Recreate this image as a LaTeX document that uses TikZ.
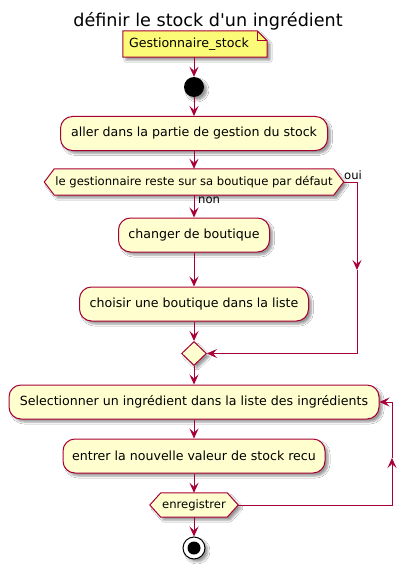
\documentclass[tikz,border=0pt]{standalone}
\usepackage{fontspec}
\setmainfont{DejaVu Sans}[Ligatures=TeXOff]
\usetikzlibrary{arrows.meta,shapes.geometric,shadows.blur}
\definecolor{pline}{HTML}{A80036}
\definecolor{pfill}{HTML}{FEFECE}
\definecolor{pnote}{HTML}{FBFB77}
\pgfdeclarelayer{background}
\pgfsetlayers{background,main}
\tikzset{
  shd/.style={blur shadow={shadow xshift=3pt,shadow yshift=-3pt,shadow blur steps=5,shadow blur radius=2pt,shadow opacity=40}},
  act/.style={draw=pline,fill=pfill,line width=1pt,rounded corners=12pt,minimum height=34pt,inner sep=0pt,font=\fontsize{12.6}{15}\selectfont,shd},
  hexbox/.style={inner sep=0pt,font=\fontsize{11.6}{13}\selectfont},
  hexshape/.style={draw=pline,fill=pfill,line width=1pt,shd},
  flow/.style={draw=pline,line width=1pt,-{Stealth[length=10pt,width=9pt,inset=4pt]}},
  lbl/.style={inner sep=0pt,font=\fontsize{11.6}{13}\selectfont,anchor=west},
}
\begin{document}
\begin{tikzpicture}[x=1pt,y=-1pt]
\useasboundingbox (0,0) rectangle (416,567);
% title
\node[inner sep=0pt,anchor=base,font=\fontsize{17.6}{20}\selectfont] (title) at (208,26.5) {définir le stock d'un ingrédient};
% note
\node[inner xsep=6pt,inner ysep=0pt,text width=132pt,minimum height=26pt,align=left,font=\fontsize{12.6}{15}\selectfont] (note) at (195,44) {Gestionnaire\_stock};
% start
\node[circle,fill=black,minimum size=20pt,inner sep=0pt,shd] (start) at (194,87) {};
% actions
\node[act,minimum width=267pt] (a1) at (194,133.5) {aller dans la partie de gestion du stock};
\node[hexbox,minimum width=279pt,minimum height=26pt] (d1) at (194,182) {le gestionnaire reste sur sa boutique par défaut};
\node[act,minimum width=151pt] (a2) at (194,235) {changer de boutique};
\node[act,minimum width=229pt] (a3) at (194,304) {choisir une boutique dans la liste};
\node[diamond,shape aspect=1,draw=pline,fill=pfill,line width=1pt,minimum width=25pt,minimum height=24pt,inner sep=0pt,shd] (m1) at (194,353.5) {};
\node[act,minimum width=370pt] (a4) at (194,402) {Selectionner un ingrédient dans la liste des ingrédients};
\node[act,minimum width=262pt] (a5) at (194,456) {entrer la nouvelle valeur de stock recu};
\node[hexbox,minimum width=66pt,minimum height=24pt] (d2) at (194,505) {enregistrer};
\node[circle,draw=black,line width=1pt,fill=white,minimum size=22pt,inner sep=0pt,shd] (stop) at (194,548) {};
\fill[black] (stop.center) circle[radius=6.5pt];
% hexagon tips
\coordinate (d1r) at ([xshift=10pt]d1.east);
\coordinate (d2r) at ([xshift=11pt]d2.east);
\coordinate (r1) at (357,270);
\coordinate (l1) at (392,458);
% background shapes
\begin{pgfonlayer}{background}
\fill[white] (0,0) rectangle (416,567);
\path[draw=pline,fill=pnote,line width=1pt,shd] (note.north west) -- ([xshift=-10pt]note.north east) -- ([yshift=-10pt]note.north east) -- (note.south east) -- (note.south west) -- cycle;
\draw[pline,line width=1pt] ([xshift=-10pt]note.north east) |- ([yshift=-10pt]note.north east);
\path[hexshape] ([xshift=-10pt]d1.west) -- (d1.north west) -- (d1.north east) -- (d1r) -- (d1.south east) -- (d1.south west) -- cycle;
\path[hexshape] ([xshift=-11pt]d2.west) -- (d2.north west) -- (d2.north east) -- (d2r) -- (d2.south east) -- (d2.south west) -- cycle;
\end{pgfonlayer}
% labels
\node[lbl] (oui) at (344,175) {oui};
\node[lbl] (non) at (198,200) {non};
% connectors
\draw[flow] (note.south -| start) -- (start);
\draw[flow] (start) -- (a1);
\draw[flow] (a1) -- (d1);
\draw[flow] (d1) -- (a2);
\draw[flow] (a2) -- (a3);
\draw[flow] (a3) -- (m1);
\draw[flow] (d1r) -| (r1);
\draw[flow] (r1) |- (m1);
\draw[flow] (m1) -- (a4);
\draw[flow] (a4) -- (a5);
\draw[flow] (a5) -- (d2);
\draw[flow] (d2) -- (stop);
\draw[flow] (d2r) -| (l1);
\draw[flow] (l1) |- (a4);
\end{tikzpicture}
\end{document}
